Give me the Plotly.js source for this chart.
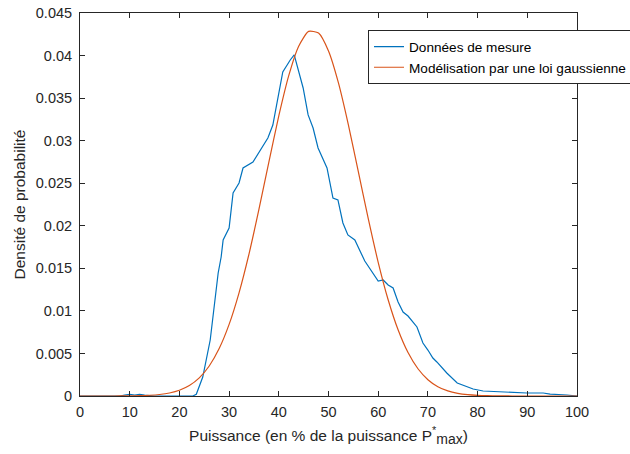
<!DOCTYPE html>
<html>
<head>
<meta charset="utf-8">
<script src="https://cdn.plot.ly/plotly-3.0.1.min.js"></script>
<style>html,body{margin:0;padding:0;background:#fff;}#chart{width:630px;height:454px;}</style>
</head>
<body>
<div id="chart"></div>
<script>
// Measured data (Données de mesure)
var mesureX = [0, 5, 8, 9, 10, 11, 12, 13, 15, 20, 22.7, 23.4, 24.7, 26.2, 27.2, 27.8, 28.4, 28.8, 30.0, 30.8, 32.0, 32.8, 34.8, 36.6, 37.8, 38.8, 39.8, 40.8, 42.3, 43.1, 44.9, 45.9, 46.9, 47.9, 49.7, 50.9, 51.9, 52.9, 53.9, 55.3, 57.3, 59.0, 60.0, 61.0, 62.0, 63.0, 64.0, 65.0, 66.0, 67.8, 69.0, 70.0, 71.0, 71.8, 73.8, 75.9, 77.5, 79.1, 81.1, 85.1, 89.9, 93.2, 94.6, 98.0, 100];
var mesureY = [0, 0, 0, 0.0001, 0.0002, 0.0001, 0.0002, 0.0001, 0, 0, 0, 0.0002, 0.00223, 0.00658, 0.01163, 0.01445, 0.01633, 0.01833, 0.01974, 0.02385, 0.02503, 0.02679, 0.02749, 0.02926, 0.03031, 0.03184, 0.03513, 0.03807, 0.03948, 0.04007, 0.03619, 0.03302, 0.03149, 0.02914, 0.02679, 0.02326, 0.02303, 0.02033, 0.01892, 0.01833, 0.01586, 0.01433, 0.01351, 0.01363, 0.01304, 0.01269, 0.01104, 0.00987, 0.0094, 0.00811, 0.00623, 0.0054, 0.00446, 0.004, 0.0027, 0.00153, 0.00117, 0.00082, 0.00059, 0.00047, 0.00035, 0.00035, 0.00023, 0.00012, 0];

// Gaussian model (Modélisation par une loi gaussienne)
var modeleX = [0, 2, 4, 6, 8, 10, 12, 14, 16, 18, 20, 22, 24, 26, 28, 30, 32, 34, 36, 38, 40, 42, 44, 46, 48, 50, 52, 54, 56, 58, 60, 62, 64, 66, 68, 70, 72, 74, 76, 78, 80, 82, 84, 86, 88, 90, 92, 94, 96, 98, 100];
var modeleY = [0, 0, 0, 0, 0.000005, 0.000017, 0.000039, 0.000086, 0.000179, 0.000356, 0.000677, 0.001229, 0.00213, 0.003526, 0.005573, 0.008411, 0.012126, 0.01668, 0.02192, 0.02748, 0.03291, 0.03764, 0.0411, 0.04284, 0.04264, 0.04053, 0.03678, 0.03186, 0.02636, 0.02083, 0.01571, 0.01131, 0.00778, 0.005105, 0.0032, 0.001916, 0.001094, 0.000597, 0.000311, 0.000155, 0.000073, 0.000033, 0.000014, 0.000006, 0, 0, 0, 0, 0, 0, 0];

var xTickVals = [0, 10, 20, 30, 40, 50, 60, 70, 80, 90, 100];
var xTickText = ['0', '10', '20', '30', '40', '50', '60', '70', '80', '90', '100'];
var yTickVals = [0, 0.005, 0.01, 0.015, 0.02, 0.025, 0.03, 0.035, 0.04, 0.045];
var yTickText = ['0', '0.005', '0.01', '0.015', '0.02', '0.025', '0.03', '0.035', '0.04', '0.045'];

var seriesNames = ['Données de mesure', 'Modélisation par une loi gaussienne'];

var FONT = 'Liberation Sans, Arial, Helvetica, sans-serif';
var axisCol = '#262626';

var traces = [
  {x: mesureX, y: mesureY, type: 'scatter', mode: 'lines', name: seriesNames[0],
   line: {color: '#0072BD', width: 1.2}},
  {x: modeleX, y: modeleY, type: 'scatter', mode: 'lines', name: seriesNames[1],
   line: {color: '#D95319', width: 1.2, shape: 'spline', smoothing: 0.6}}
];

var layout = {
  width: 630, height: 454,
  margin: {l: 80, r: 53, t: 13, b: 58, autoexpand: false},
  paper_bgcolor: '#fff', plot_bgcolor: '#fff',
  font: {family: FONT, color: axisCol, size: 14},
  showlegend: true,
  legend: {
    x: 0.5795, y: 0.955, xanchor: 'left', yanchor: 'top',
    bgcolor: '#fff', bordercolor: axisCol, borderwidth: 1,
    font: {family: FONT, size: 13.6, color: '#000'},
    tracegroupgap: 0, itemwidth: 30
  },
  xaxis: {
    range: [0, 100], tickvals: xTickVals, ticktext: xTickText,
    ticks: 'inside', ticklen: 5, tickcolor: axisCol, tickwidth: 1,
    showline: true, linecolor: axisCol, linewidth: 1, mirror: 'ticks',
    showgrid: false, zeroline: false,
    tickfont: {size: 14.5, color: axisCol}, ticklabelstandoff: 3,
    title: {text: 'Puissance (en % de la puissance P<sup>*</sup><sub><span style="font-size:14px">max</span></sub>)', font: {size: 15.5, color: axisCol}, standoff: 10}
  },
  yaxis: {
    range: [0, 0.045], tickvals: yTickVals, ticktext: yTickText,
    ticks: 'inside', ticklen: 5, tickcolor: axisCol, tickwidth: 1,
    showline: true, linecolor: axisCol, linewidth: 1, mirror: 'ticks',
    showgrid: false, zeroline: false,
    tickfont: {size: 14.5, color: axisCol}, ticklabelstandoff: 4,
    title: {text: 'Densité de probabilité', font: {size: 15.5, color: axisCol}, standoff: 6}
  }
};

Plotly.newPlot('chart', traces, layout, {staticPlot: true, displayModeBar: false});
</script>
</body>
</html>
